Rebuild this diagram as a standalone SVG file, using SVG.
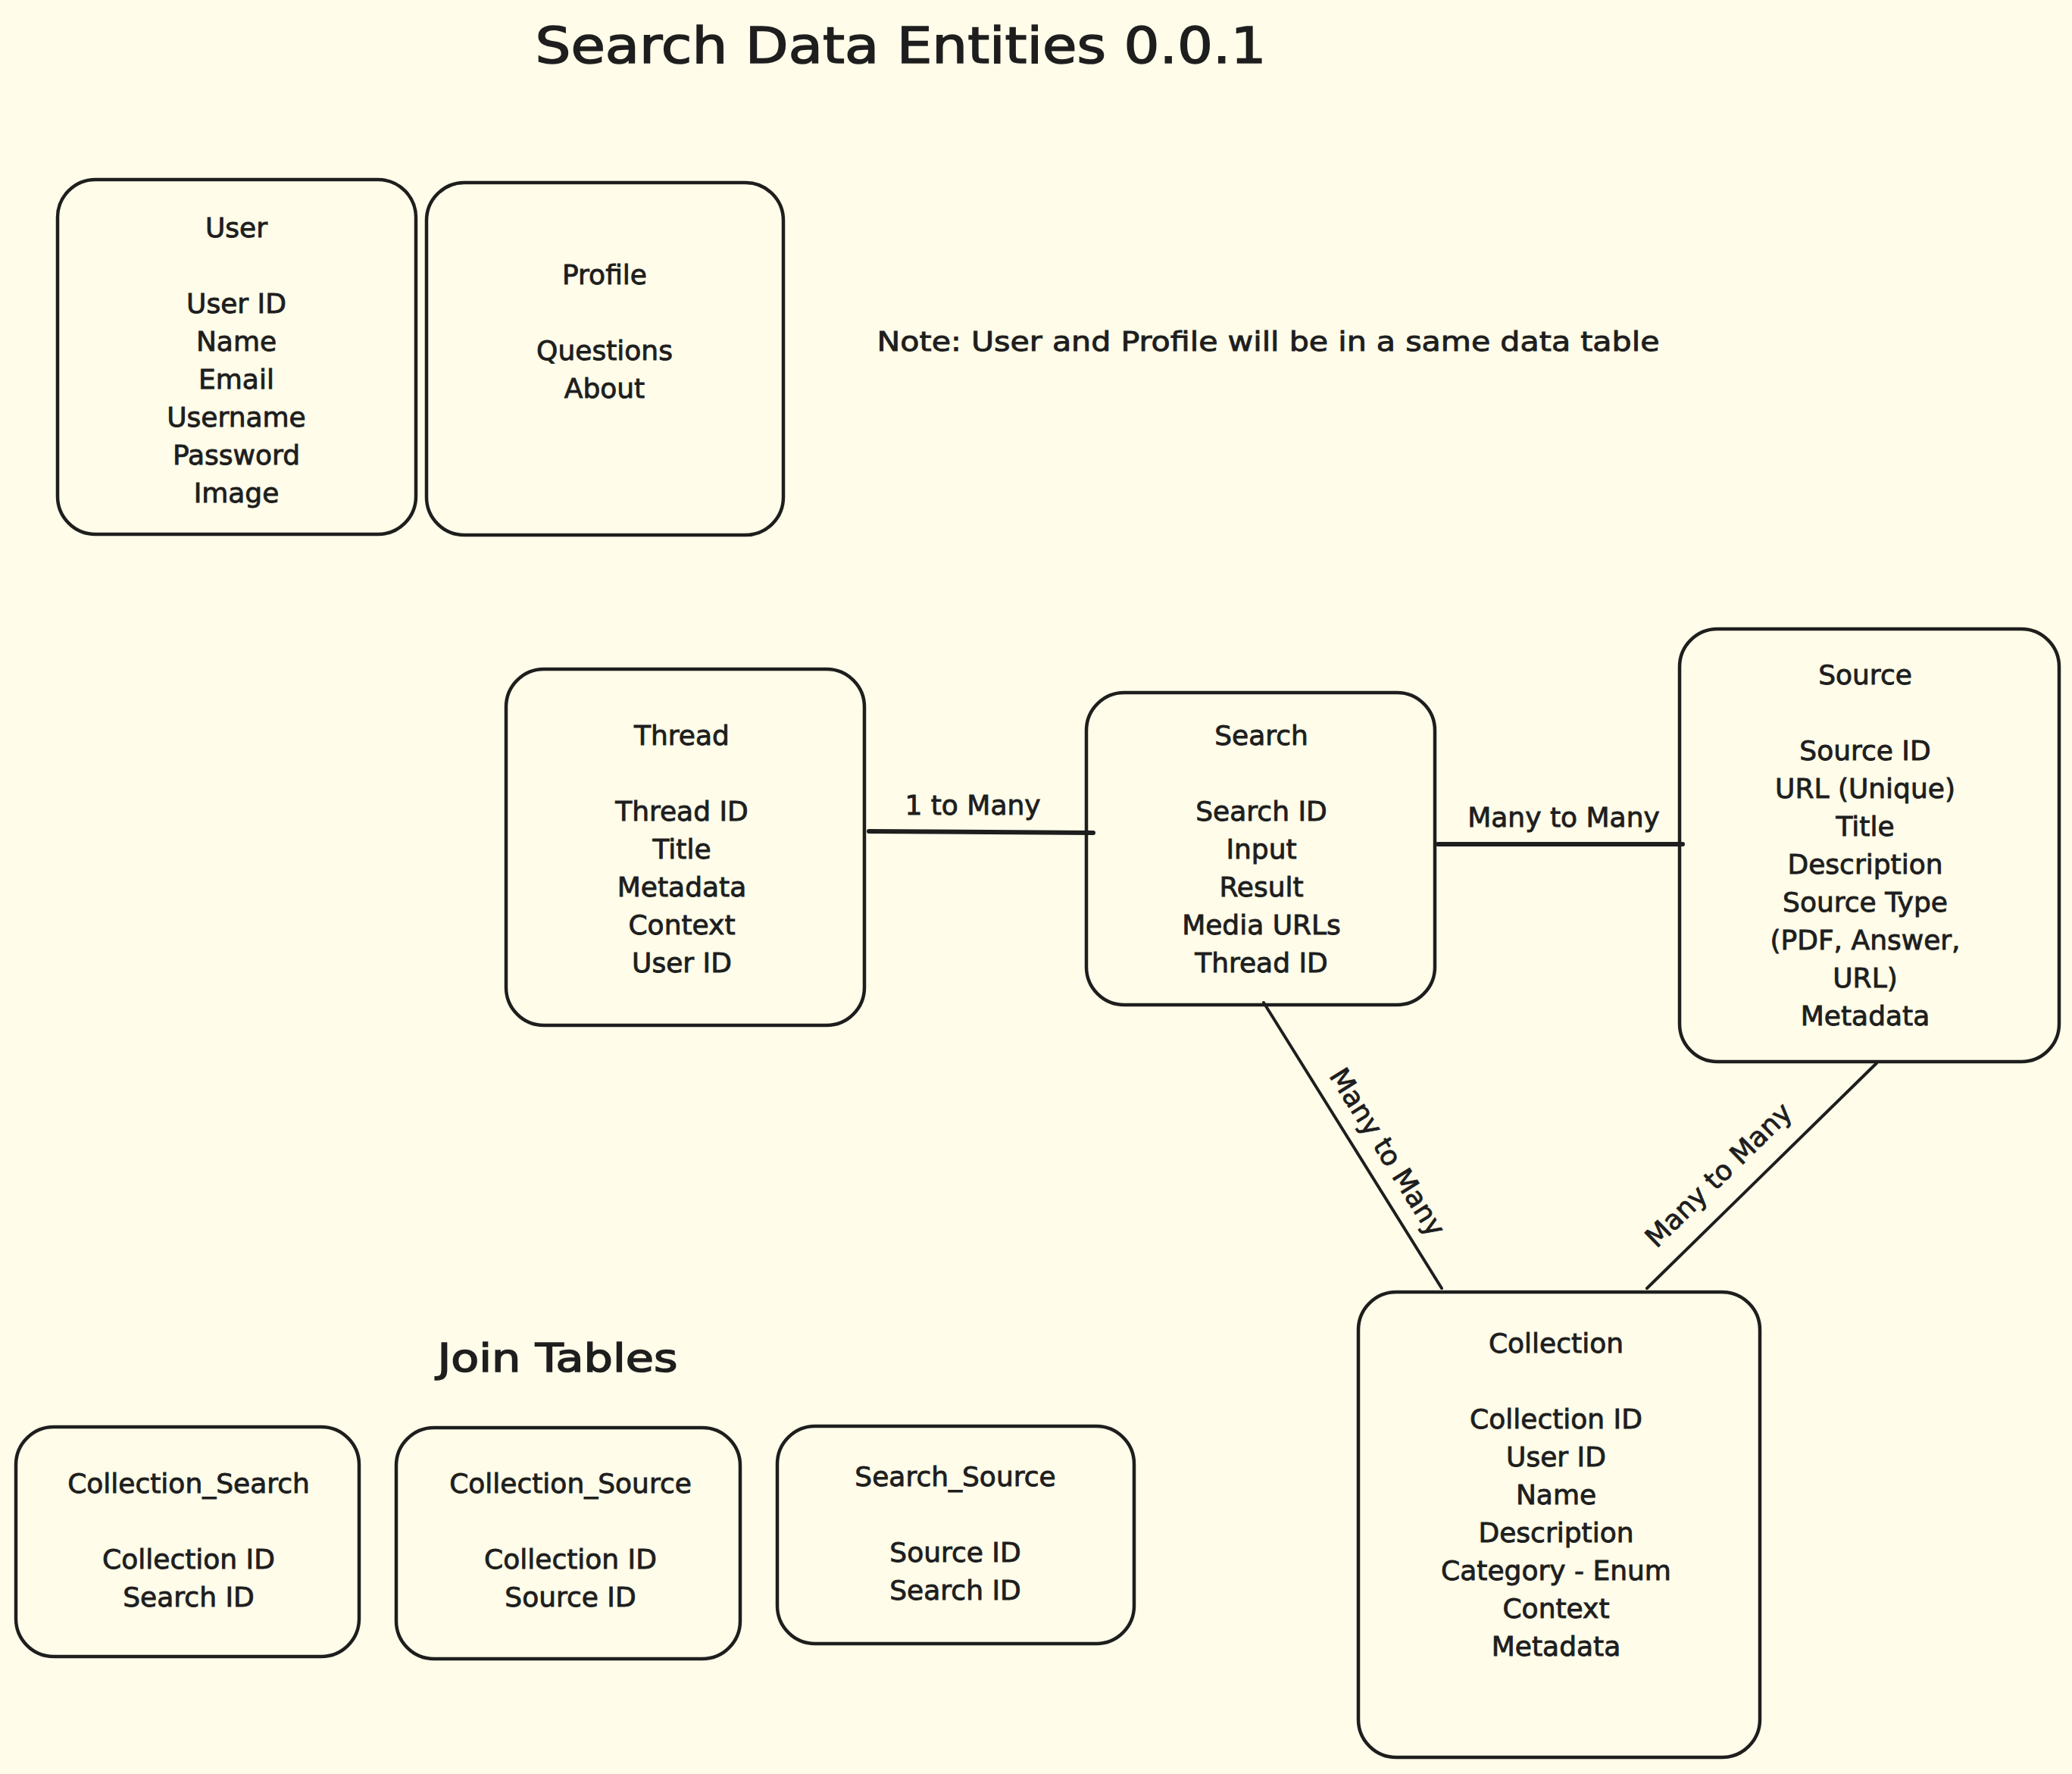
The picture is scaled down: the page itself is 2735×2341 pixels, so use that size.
<svg xmlns="http://www.w3.org/2000/svg" width="2735" height="2341" viewBox="0 0 2735 2341">
<style>
.bg{fill:#fffce9}
.box{fill:none;stroke:#1e1e1e;stroke-width:4.5;stroke-linejoin:round}
.t{font-family:"DejaVu Sans","Liberation Sans",sans-serif;font-size:36px;fill:#1e1e1e;stroke:#1e1e1e;stroke-width:0.9;text-anchor:middle}
.big{font-family:"DejaVu Sans","Liberation Sans",sans-serif;fill:#1e1e1e;stroke:#1e1e1e;stroke-width:1.6;text-anchor:middle}
.ln{stroke:#1e1e1e;stroke-linecap:round;fill:none}
</style>
<rect class="bg" x="0" y="0" width="2735" height="2341"/>
<text class="big" x="1189" y="83" font-size="66" textLength="965" lengthAdjust="spacingAndGlyphs">Search Data Entities 0.0.1</text>
<text class="t" x="1674" y="463" textLength="1033" lengthAdjust="spacingAndGlyphs">Note: User and Profile will be in a same data table</text>
<text class="big" x="736" y="1810" font-size="52" textLength="317" lengthAdjust="spacingAndGlyphs">Join Tables</text>

<g id="connectors">
<line class="ln" x1="1147" y1="1097" x2="1443" y2="1099" stroke-width="6"/>
<text class="t" x="1284" y="1075">1 to Many</text>
<line class="ln" x1="1898" y1="1114" x2="2221" y2="1114" stroke-width="6"/>
<text class="t" x="2064" y="1091">Many to Many</text>
<line class="ln" x1="1668" y1="1323" x2="1903" y2="1700" stroke-width="4"/>
<text class="t" x="1832" y="1533" transform="rotate(58 1832 1520)">Many to Many</text>
<line class="ln" x1="2477" y1="1403" x2="2174" y2="1700" stroke-width="4"/>
<text class="t" x="2268" y="1563" transform="rotate(-44.4 2268 1550)">Many to Many</text>
</g>

<g id="user">
<rect class="box" x="76" y="237" width="473" height="468" rx="50"/>
<text class="t" x="312" y="313">User</text>
<text class="t" x="312" y="413">User ID</text>
<text class="t" x="312" y="463">Name</text>
<text class="t" x="312" y="513">Email</text>
<text class="t" x="312" y="563">Username</text>
<text class="t" x="312" y="613">Password</text>
<text class="t" x="312" y="663">Image</text>
</g>

<g id="profile">
<rect class="box" x="563" y="241" width="471" height="465" rx="50"/>
<text class="t" x="798" y="375">Profile</text>
<text class="t" x="798" y="475">Questions</text>
<text class="t" x="798" y="525">About</text>
</g>

<g id="thread">
<rect class="box" x="668" y="883" width="473" height="470" rx="50"/>
<text class="t" x="900" y="983">Thread</text>
<text class="t" x="900" y="1083">Thread ID</text>
<text class="t" x="900" y="1133">Title</text>
<text class="t" x="900" y="1183">Metadata</text>
<text class="t" x="900" y="1233">Context</text>
<text class="t" x="900" y="1283">User ID</text>
</g>

<g id="search">
<rect class="box" x="1434" y="914" width="460" height="412" rx="50"/>
<text class="t" x="1665" y="983">Search</text>
<text class="t" x="1665" y="1083">Search ID</text>
<text class="t" x="1665" y="1133">Input</text>
<text class="t" x="1665" y="1183">Result</text>
<text class="t" x="1665" y="1233">Media URLs</text>
<text class="t" x="1665" y="1283">Thread ID</text>
</g>

<g id="source">
<rect class="box" x="2217" y="830" width="501" height="571" rx="50"/>
<text class="t" x="2462" y="903">Source</text>
<text class="t" x="2462" y="1003">Source ID</text>
<text class="t" x="2462" y="1053">URL (Unique)</text>
<text class="t" x="2462" y="1103">Title</text>
<text class="t" x="2462" y="1153">Description</text>
<text class="t" x="2462" y="1203">Source Type</text>
<text class="t" x="2462" y="1253">(PDF, Answer,</text>
<text class="t" x="2462" y="1303">URL)</text>
<text class="t" x="2462" y="1353">Metadata</text>
</g>

<g id="collection">
<rect class="box" x="1793" y="1705" width="530" height="614" rx="50"/>
<text class="t" x="2054" y="1785">Collection</text>
<text class="t" x="2054" y="1885">Collection ID</text>
<text class="t" x="2054" y="1935">User ID</text>
<text class="t" x="2054" y="1985">Name</text>
<text class="t" x="2054" y="2035">Description</text>
<text class="t" x="2054" y="2085">Category - Enum</text>
<text class="t" x="2054" y="2135">Context</text>
<text class="t" x="2054" y="2185">Metadata</text>
</g>

<g id="collection_search">
<rect class="box" x="21" y="1883" width="453" height="303" rx="50"/>
<text class="t" x="249" y="1970">Collection_Search</text>
<text class="t" x="249" y="2070">Collection ID</text>
<text class="t" x="249" y="2120">Search ID</text>
</g>

<g id="collection_source">
<rect class="box" x="523" y="1884" width="454" height="305" rx="50"/>
<text class="t" x="753" y="1970">Collection_Source</text>
<text class="t" x="753" y="2070">Collection ID</text>
<text class="t" x="753" y="2120">Source ID</text>
</g>

<g id="search_source">
<rect class="box" x="1026" y="1882" width="471" height="287" rx="50"/>
<text class="t" x="1261" y="1961">Search_Source</text>
<text class="t" x="1261" y="2061">Source ID</text>
<text class="t" x="1261" y="2111">Search ID</text>
</g>
</svg>
